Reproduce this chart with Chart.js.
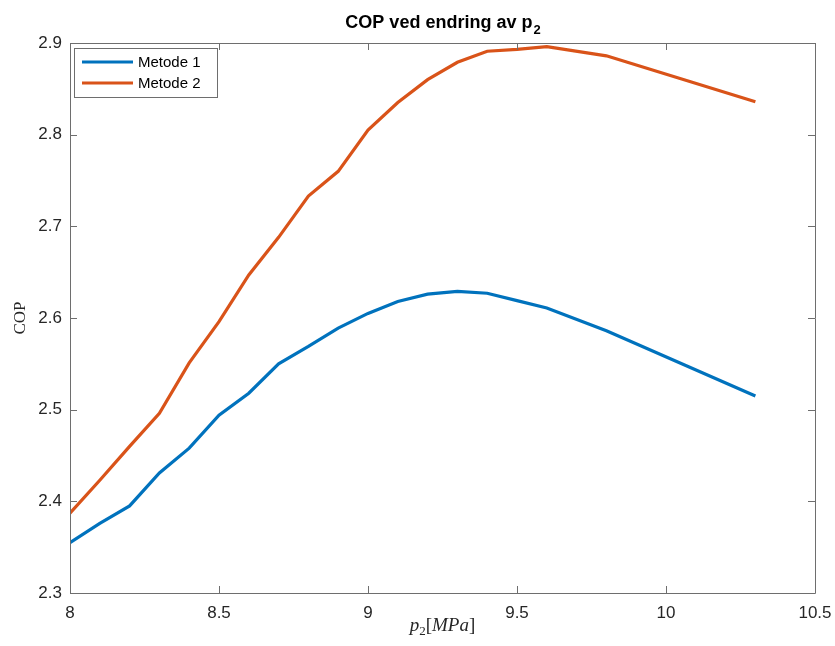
<!DOCTYPE html>
<html>
<head>
<meta charset="utf-8">
<script src="https://cdn.jsdelivr.net/npm/chart.js@4.4.1/dist/chart.umd.min.js"></script>
<style>
  html, body { margin: 0; padding: 0; background: #fff; }
  #wrap { width: 835px; height: 646px; }
</style>
</head>
<body>
<div id="wrap"><canvas id="c" width="835" height="646"></canvas></div>
<script>
// High-side pressure p2 [MPa]
const pressure = [8.0, 8.1, 8.2, 8.3, 8.4, 8.5, 8.6, 8.7, 8.8, 8.9, 9.0, 9.1, 9.2, 9.3, 9.4, 9.5, 9.6, 9.8, 10.3];
// COP computed with the two methods
const copMetode1 = [2.355, 2.376, 2.395, 2.431, 2.458, 2.494, 2.518, 2.550, 2.569, 2.589, 2.605, 2.618, 2.626, 2.629, 2.627, 2.619, 2.611, 2.586, 2.515];
const copMetode2 = [2.387, 2.423, 2.460, 2.496, 2.551, 2.596, 2.647, 2.688, 2.733, 2.760, 2.805, 2.835, 2.860, 2.879, 2.891, 2.893, 2.896, 2.886, 2.836];
const seriesNames = ['Metode 1', 'Metode 2'];
const xTicks = [8, 8.5, 9, 9.5, 10, 10.5];
const yTicks = [2.3, 2.4, 2.5, 2.6, 2.7, 2.8, 2.9];
const titleMain = 'COP ved endring av p';
const titleSub = '2';
const yLabel = 'COP';

const SANS = '"Liberation Sans", Arial, Helvetica, sans-serif';
const SERIF = '"Liberation Serif", "Times New Roman", serif';
const AXIS = '#262626';
const BOX = '#6e6e6e';

const toPoints = ys => pressure.map((x, i) => ({ x, y: ys[i] }));

// Box, inward ticks, title, axis labels and legend
const decor = {
  id: 'decor',
  afterDraw(chart) {
    const { ctx, chartArea: a, scales } = chart;
    const xs = scales.x, ys = scales.y;
    const T = 7;
    ctx.save();
    ctx.strokeStyle = BOX;
    ctx.lineWidth = 1;
    ctx.beginPath();
    ctx.rect(Math.round(a.left) + 0.5, Math.round(a.top) + 0.5,
             Math.round(a.right - a.left), Math.round(a.bottom - a.top));
    ctx.stroke();
    ctx.beginPath();
    xTicks.forEach(v => {
      const px = Math.round(xs.getPixelForValue(v)) + 0.5;
      ctx.moveTo(px, a.bottom); ctx.lineTo(px, a.bottom - T);
      ctx.moveTo(px, a.top); ctx.lineTo(px, a.top + T);
    });
    yTicks.forEach(v => {
      const py = Math.round(ys.getPixelForValue(v)) + 0.5;
      ctx.moveTo(a.left, py); ctx.lineTo(a.left + T, py);
      ctx.moveTo(a.right, py); ctx.lineTo(a.right - T, py);
    });
    ctx.stroke();

    const cx = (a.left + a.right) / 2;

    // Title with subscript
    ctx.fillStyle = '#000';
    ctx.textBaseline = 'alphabetic';
    ctx.font = 'bold 18px ' + SANS;
    const wMain = ctx.measureText(titleMain).width;
    ctx.font = 'bold 13px ' + SANS;
    const wSub = ctx.measureText(titleSub).width;
    let tx = cx - (wMain + wSub) / 2;
    ctx.textAlign = 'left';
    ctx.font = 'bold 18px ' + SANS;
    ctx.fillText(titleMain, tx, 28);
    ctx.font = 'bold 13px ' + SANS;
    ctx.fillText(titleSub, tx + wMain + 1, 34);

    // y axis label
    ctx.fillStyle = AXIS;
    ctx.save();
    ctx.translate(25, (a.top + a.bottom) / 2);
    ctx.rotate(-Math.PI / 2);
    ctx.textAlign = 'center';
    ctx.font = '17px ' + SERIF;
    ctx.fillText(yLabel, 0, 0);
    ctx.restore();

    // x axis label: p_2[MPa]
    const parts = [
      { t: 'p', f: 'italic 19px ' + SERIF, dy: 0 },
      { t: '2', f: '13px ' + SERIF, dy: 4 },
      { t: '[', f: '19px ' + SERIF, dy: 0 },
      { t: 'MPa', f: 'italic 19px ' + SERIF, dy: 0 },
      { t: ']', f: '19px ' + SERIF, dy: 0 }
    ];
    let total = 0;
    parts.forEach(p => { ctx.font = p.f; p.w = ctx.measureText(p.t).width; total += p.w; });
    let lx = cx - total / 2;
    ctx.textAlign = 'left';
    parts.forEach(p => { ctx.font = p.f; ctx.fillText(p.t, lx, 631 + p.dy); lx += p.w; });

    // Legend inside the plot, upper left
    const lg = { x: 74, y: 48, w: 143, h: 49 };
    ctx.fillStyle = '#fff';
    ctx.fillRect(lg.x, lg.y, lg.w, lg.h);
    ctx.strokeStyle = BOX;
    ctx.lineWidth = 1;
    ctx.strokeRect(lg.x + 0.5, lg.y + 0.5, lg.w, lg.h);
    chart.data.datasets.forEach((ds, i) => {
      const y = lg.y + 14 + i * 21;
      ctx.strokeStyle = ds.borderColor;
      ctx.lineWidth = 3;
      ctx.beginPath();
      ctx.moveTo(lg.x + 8, y); ctx.lineTo(lg.x + 59, y);
      ctx.stroke();
      ctx.fillStyle = '#000';
      ctx.font = '15px ' + SANS;
      ctx.textBaseline = 'middle';
      ctx.fillText(ds.label, lg.x + 64, y + 1);
    });
    ctx.restore();
  }
};

new Chart(document.getElementById('c'), {
  type: 'line',
  data: {
    datasets: [
      { label: seriesNames[0], data: toPoints(copMetode1), borderColor: 'rgb(0,114,189)', borderWidth: 3.2, pointRadius: 0, tension: 0, fill: false },
      { label: seriesNames[1], data: toPoints(copMetode2), borderColor: 'rgb(217,83,25)', borderWidth: 3.2, pointRadius: 0, tension: 0, fill: false }
    ]
  },
  options: {
    responsive: false,
    animation: false,
    layout: { padding: { left: 0, top: 43, right: 20, bottom: 0 } },
    plugins: { legend: { display: false }, title: { display: false }, tooltip: { enabled: false } },
    scales: {
      x: {
        type: 'linear', min: 8, max: 10.5,
        afterBuildTicks: s => { s.ticks = xTicks.map(v => ({ value: v })); },
        afterFit: s => { s.height = 53; s.paddingLeft = 0; s.paddingRight = 0; },
        grid: { display: false, drawTicks: false },
        border: { display: false },
        ticks: { color: AXIS, font: { family: SANS, size: 17 }, padding: 10, maxRotation: 0,
                 callback: v => String(v) }
      },
      y: {
        type: 'linear', min: 2.3, max: 2.9,
        afterBuildTicks: s => { s.ticks = yTicks.map(v => ({ value: v })); },
        afterFit: s => { s.width = 70; s.paddingTop = 0; s.paddingBottom = 0; },
        grid: { display: false, drawTicks: false },
        border: { display: false },
        ticks: { color: AXIS, font: { family: SANS, size: 17 }, padding: 8,
                 callback: v => v.toFixed(1) }
      }
    }
  },
  plugins: [decor]
});
</script>
</body>
</html>
